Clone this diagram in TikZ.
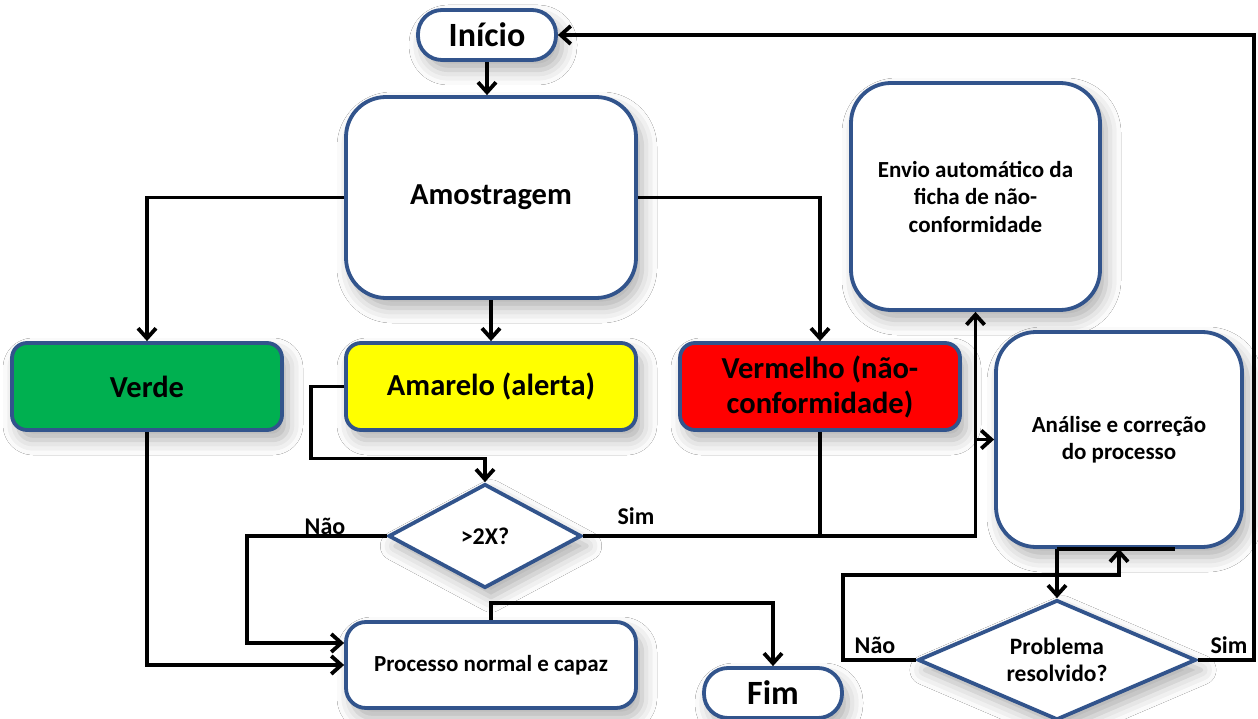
\documentclass[tikz,border=0pt]{standalone}
\usepackage{fontspec}
\setmainfont{Carlito}
\usetikzlibrary{arrows.meta,shapes.geometric,calc,shadows.blur}
\definecolor{bdr}{RGB}{50,84,140}
\definecolor{verdeC}{RGB}{0,176,80}
\definecolor{amareloC}{RGB}{255,255,0}
\definecolor{vermelhoC}{RGB}{255,0,0}
\newcommand{\fsz}[2]{\bfseries\fontsize{#1}{#2}\selectfont}
\begin{document}
\begin{tikzpicture}[x=1pt,y=-1pt,
  shad/.style={blur shadow={shadow xshift=6pt,shadow yshift=-10pt,shadow blur radius=15pt,shadow opacity=32}},
  box/.style={draw=bdr,line width=3.8pt,fill=white,shad,align=center,inner sep=0pt},
  dia/.style={box,diamond},
  conn/.style={line width=3.8pt,-{Straight Barb[length=10pt,width=18pt]}},
  wire/.style={line width=3.8pt},
  lbl/.style={font=\fsz{24}{28}}
]
\fill[white] (0,0) rectangle (1258,719);
\useasboundingbox (0,0) rectangle (1258,719);

% boxes
\node[box,rounded corners=24pt,minimum width=138pt,minimum height=50pt,font=\fsz{34}{40}] (inicio) at (487,35) {Início};
\node[box,rounded corners=40pt,minimum width=290pt,minimum height=201pt,font=\fsz{30.5}{36}] (amostra) at (491,197.5) {Amostragem};
\node[box,rounded corners=40pt,minimum width=249pt,minimum height=227pt,font=\fsz{23}{27.5}] (envio) at (975.5,196.5) {Envio automático da\\ficha de não-\\conformidade};
\node[box,fill=verdeC,rounded corners=15pt,minimum width=270pt,minimum height=87pt,font=\fsz{30.5}{36}] (verde) at (147,386.5) {Verde};
\node[box,fill=amareloC,rounded corners=15pt,minimum width=290pt,minimum height=87pt,font=\fsz{30.5}{36}] (amarelo) at (491,386.5) {Amarelo (alerta)};
\node[box,fill=vermelhoC,rounded corners=15pt,minimum width=280pt,minimum height=87pt,font=\fsz{30.5}{35}] (vermelho) at (820,386.5) {Vermelho (não-\\conformidade)};
\node[box,rounded corners=40pt,minimum width=246pt,minimum height=215pt,font=\fsz{23}{26.5}] (analise) at (1119,439.5) {Análise e correção\\do processo};
\node[dia,aspect=1.86,minimum width=193pt,minimum height=104pt,font=\fsz{24}{28}] (dec) at (485,536) {>2X?};
\node[box,rounded corners=20pt,minimum width=290pt,minimum height=86pt,font=\fsz{23}{27}] (proc) at (491,665) {Processo normal e capaz};
\node[box,rounded corners=24pt,minimum width=138pt,minimum height=50pt,font=\fsz{34}{40}] (fim) at (773,693) {Fim};
\node[dia,aspect=2.3,minimum width=278pt,minimum height=120pt,font=\fsz{23.5}{27}] (prob) at (1057,660) {Problema\\resolvido?};

% connectors
\draw[conn] (inicio.south) -- (inicio.south |- amostra.north);
\draw[conn] (amostra.west) -| (verde.north);
\draw[conn] (amostra.south) -- (amarelo.north);
\draw[conn] (amostra.east) -| (vermelho.north);
\draw[conn] (amarelo.west) -- ++(-33,0) -- ++(0,72) -| (dec.north);
\draw[conn] (dec.west) -- ++(-140,0) |- ($(proc.west)+(0,-22)$);
\draw[conn] (verde.south) |- (proc.west);
\draw[conn] (dec.east) -| (envio.south);
\draw[wire] (vermelho.south) -- (vermelho.south |- dec.east);
\draw[conn] (envio.south |- analise.west) -- (analise.west);
\draw[conn] (proc.north) -- ++(0,-17) -| (fim.north);
\draw[wire] (prob.north |- analise.south) -- ++(118,0);
\draw[conn] (prob.north |- analise.south) -- (prob.north);
\draw[conn] (prob.west) -- ++(-73,0) -- ++(0,-85) -| (analise.south);
\draw[conn] (prob.east) -- ++(56,0) |- (inicio.east);

% branch labels
\node[lbl] (n1) at (325,526) {Não};
\node[lbl] (s1) at (636,516) {Sim};
\node[lbl] (n2) at (875,645) {Não};
\node[lbl] (s2) at (1229,645) {Sim};
\end{tikzpicture}
\end{document}
